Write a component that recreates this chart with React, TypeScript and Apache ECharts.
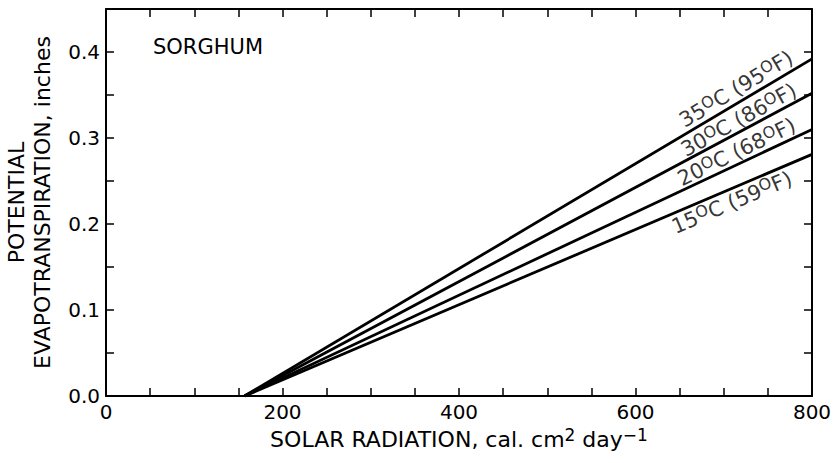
import React, { useEffect, useRef } from "react";
import * as echarts from "echarts";

// Data
const radiation = [157, 800];
const temperatureLabels = ["35{s|O}C (95{s|O}F)", "30{s|O}C (86{s|O}F)", "20{s|O}C (68{s|O}F)", "15{s|O}C (59{s|O}F)"];
const et35 = [0, 0.392];
const et30 = [0, 0.352];
const et20 = [0, 0.31];
const et15 = [0, 0.281];
// label anchor positions (data coords)
const labelX = [714, 717, 714.6, 709];
const labelY = [0.357, 0.321, 0.2837, 0.2253];
const labelRotate = [31, 29, 26, 23];
const xTicks = [0, 200, 400, 600, 800];
const yTicks = [0.0, 0.1, 0.2, 0.3, 0.4];

const FONT = "'DejaVu Sans', Verdana, sans-serif";

export default function App() {
  const ref = useRef<HTMLDivElement>(null);
  useEffect(() => {
    document.body.style.margin = "0";
    const chart = echarts.init(ref.current!, null, { renderer: "svg" });
    const series: any[] = [et35, et30, et20, et15].map((vals) => ({
      type: "line",
      data: radiation.map((x, j) => [x, vals[j]]),
      symbol: "none",
      lineStyle: { color: "#000", width: 2.8 },
      silent: true,
    }));
    series.push({
      type: "scatter",
      symbolSize: 0,
      data: labelX.map((x, i) => ({
        value: [x, labelY[i]],
        label: {
          show: true,
          position: "inside",
          rotate: labelRotate[i],
          formatter: temperatureLabels[i],
        },
      })),
      label: {
        color: "#000",
        fontFamily: FONT,
        fontSize: 21,
        lineHeight: 23,
        rich: {
          s: { fontSize: 16, lineHeight: 9, verticalAlign: "top", fontFamily: FONT, color: "#000" },
        },
      },
      silent: true,
    });
    const axisLine = { show: true, onZero: false, lineStyle: { color: "#000", width: 2 } };
    const tick = { show: true, inside: true, length: 8, lineStyle: { color: "#000", width: 1.5 } };
    chart.setOption({
      animation: false,
      grid: { left: 106, right: 21, top: 9, bottom: 67, containLabel: false, outerBoundsMode: "none" },
      xAxis: [
        {
          type: "value",
          min: 0,
          max: 800,
          interval: 50,
          position: "bottom",
          axisLine,
          axisTick: tick,
          splitLine: { show: false },
          axisLabel: {
            color: "#000",
            fontFamily: FONT,
            fontSize: 20,
            margin: 6,
            formatter: (v: number) => (xTicks.indexOf(v) >= 0 ? String(v) : ""),
          },
          name: "SOLAR RADIATION, cal. cm{s|2} day{s|−1}",
          nameLocation: "middle",
          nameGap: 29,
          nameTextStyle: {
            color: "#000",
            fontFamily: FONT,
            fontSize: 22,
            lineHeight: 26,
            rich: {
              s: { fontSize: 17, lineHeight: 10, verticalAlign: "top", fontFamily: FONT, color: "#000" },
            },
          },
        },
        {
          type: "value",
          min: 0,
          max: 800,
          interval: 50,
          position: "top",
          axisLine,
          axisTick: tick,
          axisLabel: { show: false },
          splitLine: { show: false },
        },
      ],
      yAxis: [
        {
          type: "value",
          min: 0,
          max: 0.45,
          interval: 0.05,
          position: "left",
          axisLine,
          axisTick: tick,
          splitLine: { show: false },
          axisLabel: {
            color: "#000",
            fontFamily: FONT,
            fontSize: 20,
            margin: 6,
            formatter: (v: number) =>
              yTicks.some((t) => Math.abs(t - v) < 1e-6) ? v.toFixed(1) : "",
          },
          name: "POTENTIAL\nEVAPOTRANSPIRATION, inches",
          nameLocation: "middle",
          nameGap: 51,
          nameTextStyle: { color: "#000", fontFamily: FONT, fontSize: 22, lineHeight: 26 },
        },
        {
          type: "value",
          min: 0,
          max: 0.45,
          interval: 0.05,
          position: "right",
          axisLine,
          axisTick: tick,
          axisLabel: { show: false },
          splitLine: { show: false },
        },
      ],
      graphic: [
        {
          type: "text",
          left: 153,
          top: 36,
          style: { text: "SORGHUM", fill: "#000", font: `21px ${FONT}` },
        },
      ],
      series,
    });
    return () => chart.dispose();
  }, []);
  return <div ref={ref} style={{ width: 833, height: 463 }} />;
}
